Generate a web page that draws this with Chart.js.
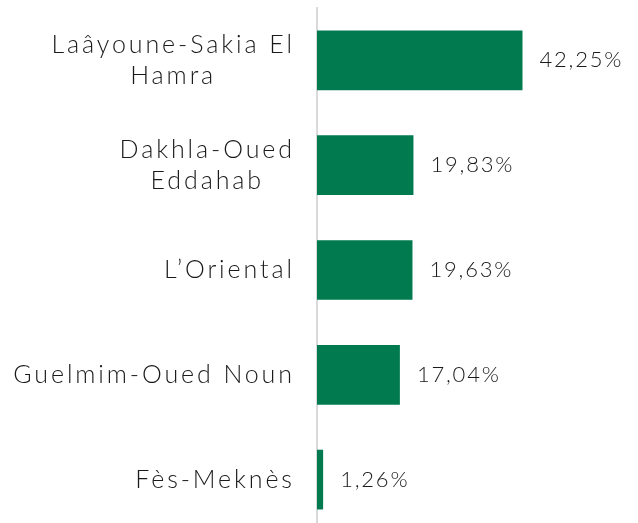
<!DOCTYPE html>
<html>
<head>
<meta charset="utf-8">
<script src="https://cdn.jsdelivr.net/npm/chart.js@4"></script>
<style>
  html, body { margin: 0; padding: 0; background: #fff; overflow: hidden; }
  #wrap { width: 638px; height: 532px; }
</style>
</head>
<body>
<div id="wrap"><canvas id="myChart"></canvas></div>
<script>
const regions = [
    ['Laâyoune-Sakia El', 'Hamra'],
    ['Dakhla-Oued', 'Eddahab'],
    'L\u2019Oriental',
    'Guelmim-Oued Noun',
    'Fès-Meknès'
];
const shares = [42.25, 19.83, 19.63, 17.04, 1.26];

const FONT = 'Lato';
const TEXT = '#1a1a1a';

// category names: block right-aligned to the axis, lines centred inside it
const regionLabels = {
    id: 'regionLabels',
    afterDraw(chart) {
        const ctx = chart.ctx;
        const y = chart.scales.y;
        const right = y.right - 25;
        const lineH = 31;
        ctx.save();
        ctx.font = `300 25px ${FONT}`;
        ctx.letterSpacing = '2.9px';
        ctx.fillStyle = TEXT;
        ctx.textBaseline = 'middle';
        regions.forEach((lab, i) => {
            let lines = Array.isArray(lab) ? lab : [lab];
            let widths = lines.map(l => ctx.measureText(l).width - 2.9);
            let widest = Math.max(...widths);
            let cy = y.getPixelForTick(i) - (lines.length - 1) * lineH / 2;
            lines.forEach((l, k) => {
                let x = lines.length > 1 ? right - widest / 2 - widths[k] / 2 : right - widths[k];
                ctx.textAlign = 'left';
                ctx.fillText(l, x, cy + k * lineH);
            });
        });
        ctx.restore();
    }
};

// draws "42,25%" next to each bar
const valueLabels = {
    id: 'valueLabels',
    afterDatasetsDraw(chart) {
        const ctx = chart.ctx;
        const meta = chart.getDatasetMeta(0);
        ctx.save();
        ctx.font = `300 22px ${FONT}`;
        ctx.letterSpacing = '1.8px';
        ctx.fillStyle = TEXT;
        ctx.textBaseline = 'middle';
        meta.data.forEach((bar, i) => {
            let txt = shares[i].toFixed(2).replace('.', ',') + '%';
            ctx.fillText(txt, bar.x + 17, bar.y);
        });
        ctx.restore();
    }
};

let ctx = document.getElementById('myChart').getContext('2d');

let myChart = new Chart(ctx, {
    type: 'bar',
    data: {
        labels: regions,
        datasets: [{
            data: shares,
            backgroundColor: '#007a4e',
            barPercentage: 0.57,
            categoryPercentage: 1
        }]
    },
    options: {
        indexAxis: 'y',
        responsive: true,
        maintainAspectRatio: false,
        animation: false,
        layout: { padding: { top: 8, right: 0, bottom: 0, left: 0 } },
        plugins: {
            legend: { display: false },
            tooltip: { enabled: false }
        },
        scales: {
            x: {
                display: false,
                min: 0,
                max: 66
            },
            y: {
                afterFit(scale) {
                    scale.width = 317;
                    scale.paddingTop = 0;
                    scale.paddingBottom = 0;
                },
                grid: { display: false, drawTicks: false },
                border: { display: true, color: '#d9d9d9', width: 2 },
                ticks: { display: false }
            }
        }
    },
    plugins: [regionLabels, valueLabels]
});
</script>
</body>
</html>
